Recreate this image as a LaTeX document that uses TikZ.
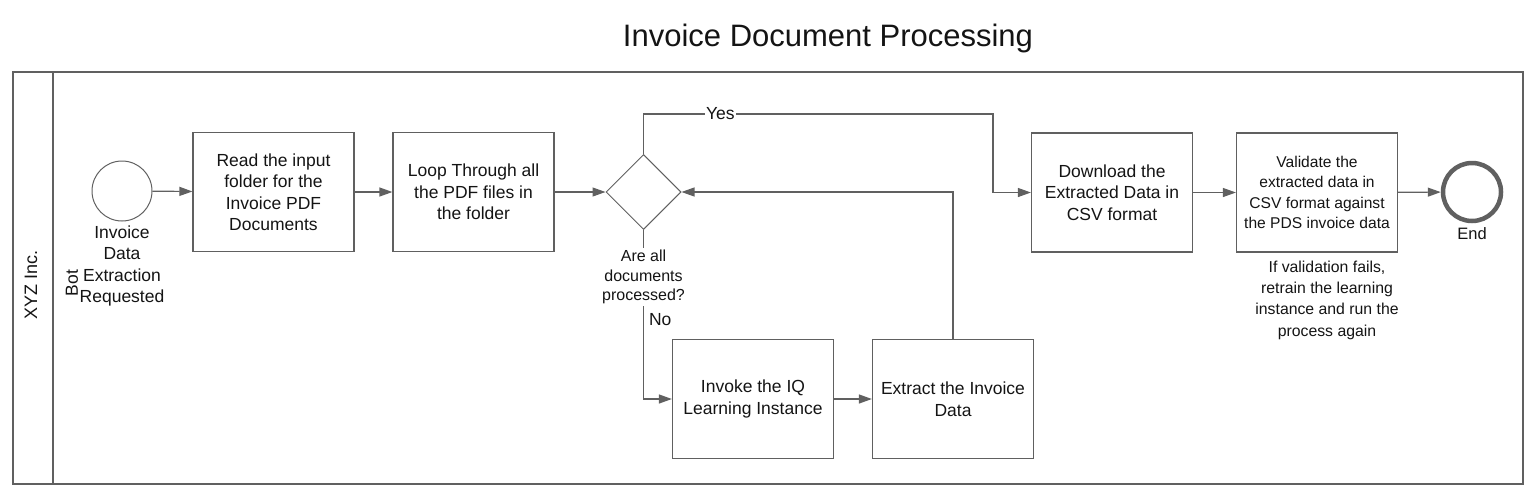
\documentclass[tikz,border=0pt]{standalone}
\usepackage{fontspec}
\setmainfont{Liberation Sans}
\usetikzlibrary{positioning}
\usetikzlibrary{arrows.meta}
\usetikzlibrary{shapes.geometric}
\usepackage{xcolor}

\definecolor{linegray}{RGB}{96,96,96}
\definecolor{textgray}{RGB}{20,20,20}

\tikzset{
  task/.style={draw=linegray, line width=1.2pt, minimum width=161pt, minimum height=119pt, align=center, text=textgray, font=\fontsize{17.5}{21.5}\selectfont},
  smalltask/.style={task, font=\fontsize{15.6}{20.6}\selectfont},
  flow/.style={draw=linegray, line width=1.2pt, -{Triangle[length=13pt,width=9pt]}},
  plain/.style={draw=linegray, line width=1.2pt},
  lbl/.style={align=center, text=textgray, font=\fontsize{17.5}{21.5}\selectfont, inner sep=1pt},
  smalllbl/.style={lbl, font=\fontsize{16}{19.6}\selectfont},
  notelbl/.style={lbl, font=\fontsize{15.8}{21.3}\selectfont}
}

\begin{document}
\begin{tikzpicture}[x=1pt, y=-1pt]
\useasboundingbox (0,0) rectangle (1537,499);

\node[text=textgray, font=\fontsize{31}{36}\selectfont] (title) at (828,38) {Invoice Document Processing};

% pool and lane
\draw[plain] (13,72) rectangle (1523,484);
\draw[plain] (53,72) -- (53,484);
\node[lbl, rotate=90, font=\fontsize{18}{21.5}\selectfont] (pool) at (31,285) {XYZ Inc.};
\node[lbl, rotate=90] (lane) at (72,283) {Bot};

% events
\node[circle, draw=linegray, line width=1pt, minimum size=60pt, inner sep=0pt] (start) at (122,191) {};
\node[lbl, below=3pt of start] (startlbl) {Invoice\\Data\\Extraction\\Requested};

\node[circle, draw=linegray, line width=4.5pt, minimum size=58pt, inner sep=0pt] (end) at (1472,192) {};
\node[lbl, below=3pt of end, font=\fontsize{16.5}{21}\selectfont] (endlbl) {End};

% tasks
\node[task] (read) at (273.5,192) {Read the input\\folder for the\\Invoice PDF\\Documents};
\node[task] (loop) at (473.5,192) {Loop Through all\\the PDF files in\\the folder};
\node[task] (download) at (1112,192.5) {Download the\\Extracted Data in\\CSV format};
\node[smalltask] (validate) at (1317,192.5) {Validate the\\extracted data in\\CSV format against\\the PDS invoice data};
\node[task] (invoke) at (753,399) {Invoke the IQ\\Learning Instance};
\node[task] (extract) at (953,399) {Extract the Invoice\\Data};

% gateway
\node[diamond, draw=linegray, line width=1pt, minimum width=75pt, minimum height=75pt, inner sep=0pt] (gw) at (643.5,192) {};
\node[smalllbl, inner sep=2pt] (gwlbl) at (643.5,277) {Are all\\documents\\processed?};

\node[notelbl] (note) at (1327,300) {If validation fails,\\retrain the learning\\instance and run the\\process again};

% flows
\draw[flow] (start) -- (read);
\draw[flow] (read) -- (loop);
\draw[flow] (loop) -- (gw.west);
\coordinate (yesturn) at (993,114);
\draw[flow] (gw.north) |- node[pos=0.61, fill=white, lbl] {Yes} (yesturn) |- (download.west);
\draw[plain] (gw.south) -- (gwlbl.north);
\draw[flow] (gwlbl.south) |- node[pos=0.07, right=4pt, lbl] {No} (invoke.west);
\draw[flow] (invoke) -- (extract);
\draw[flow] (extract.north) |- (gw.east);
\draw[flow] (download) -- (validate);
\draw[flow] (validate) -- (end);

\end{tikzpicture}
\end{document}
